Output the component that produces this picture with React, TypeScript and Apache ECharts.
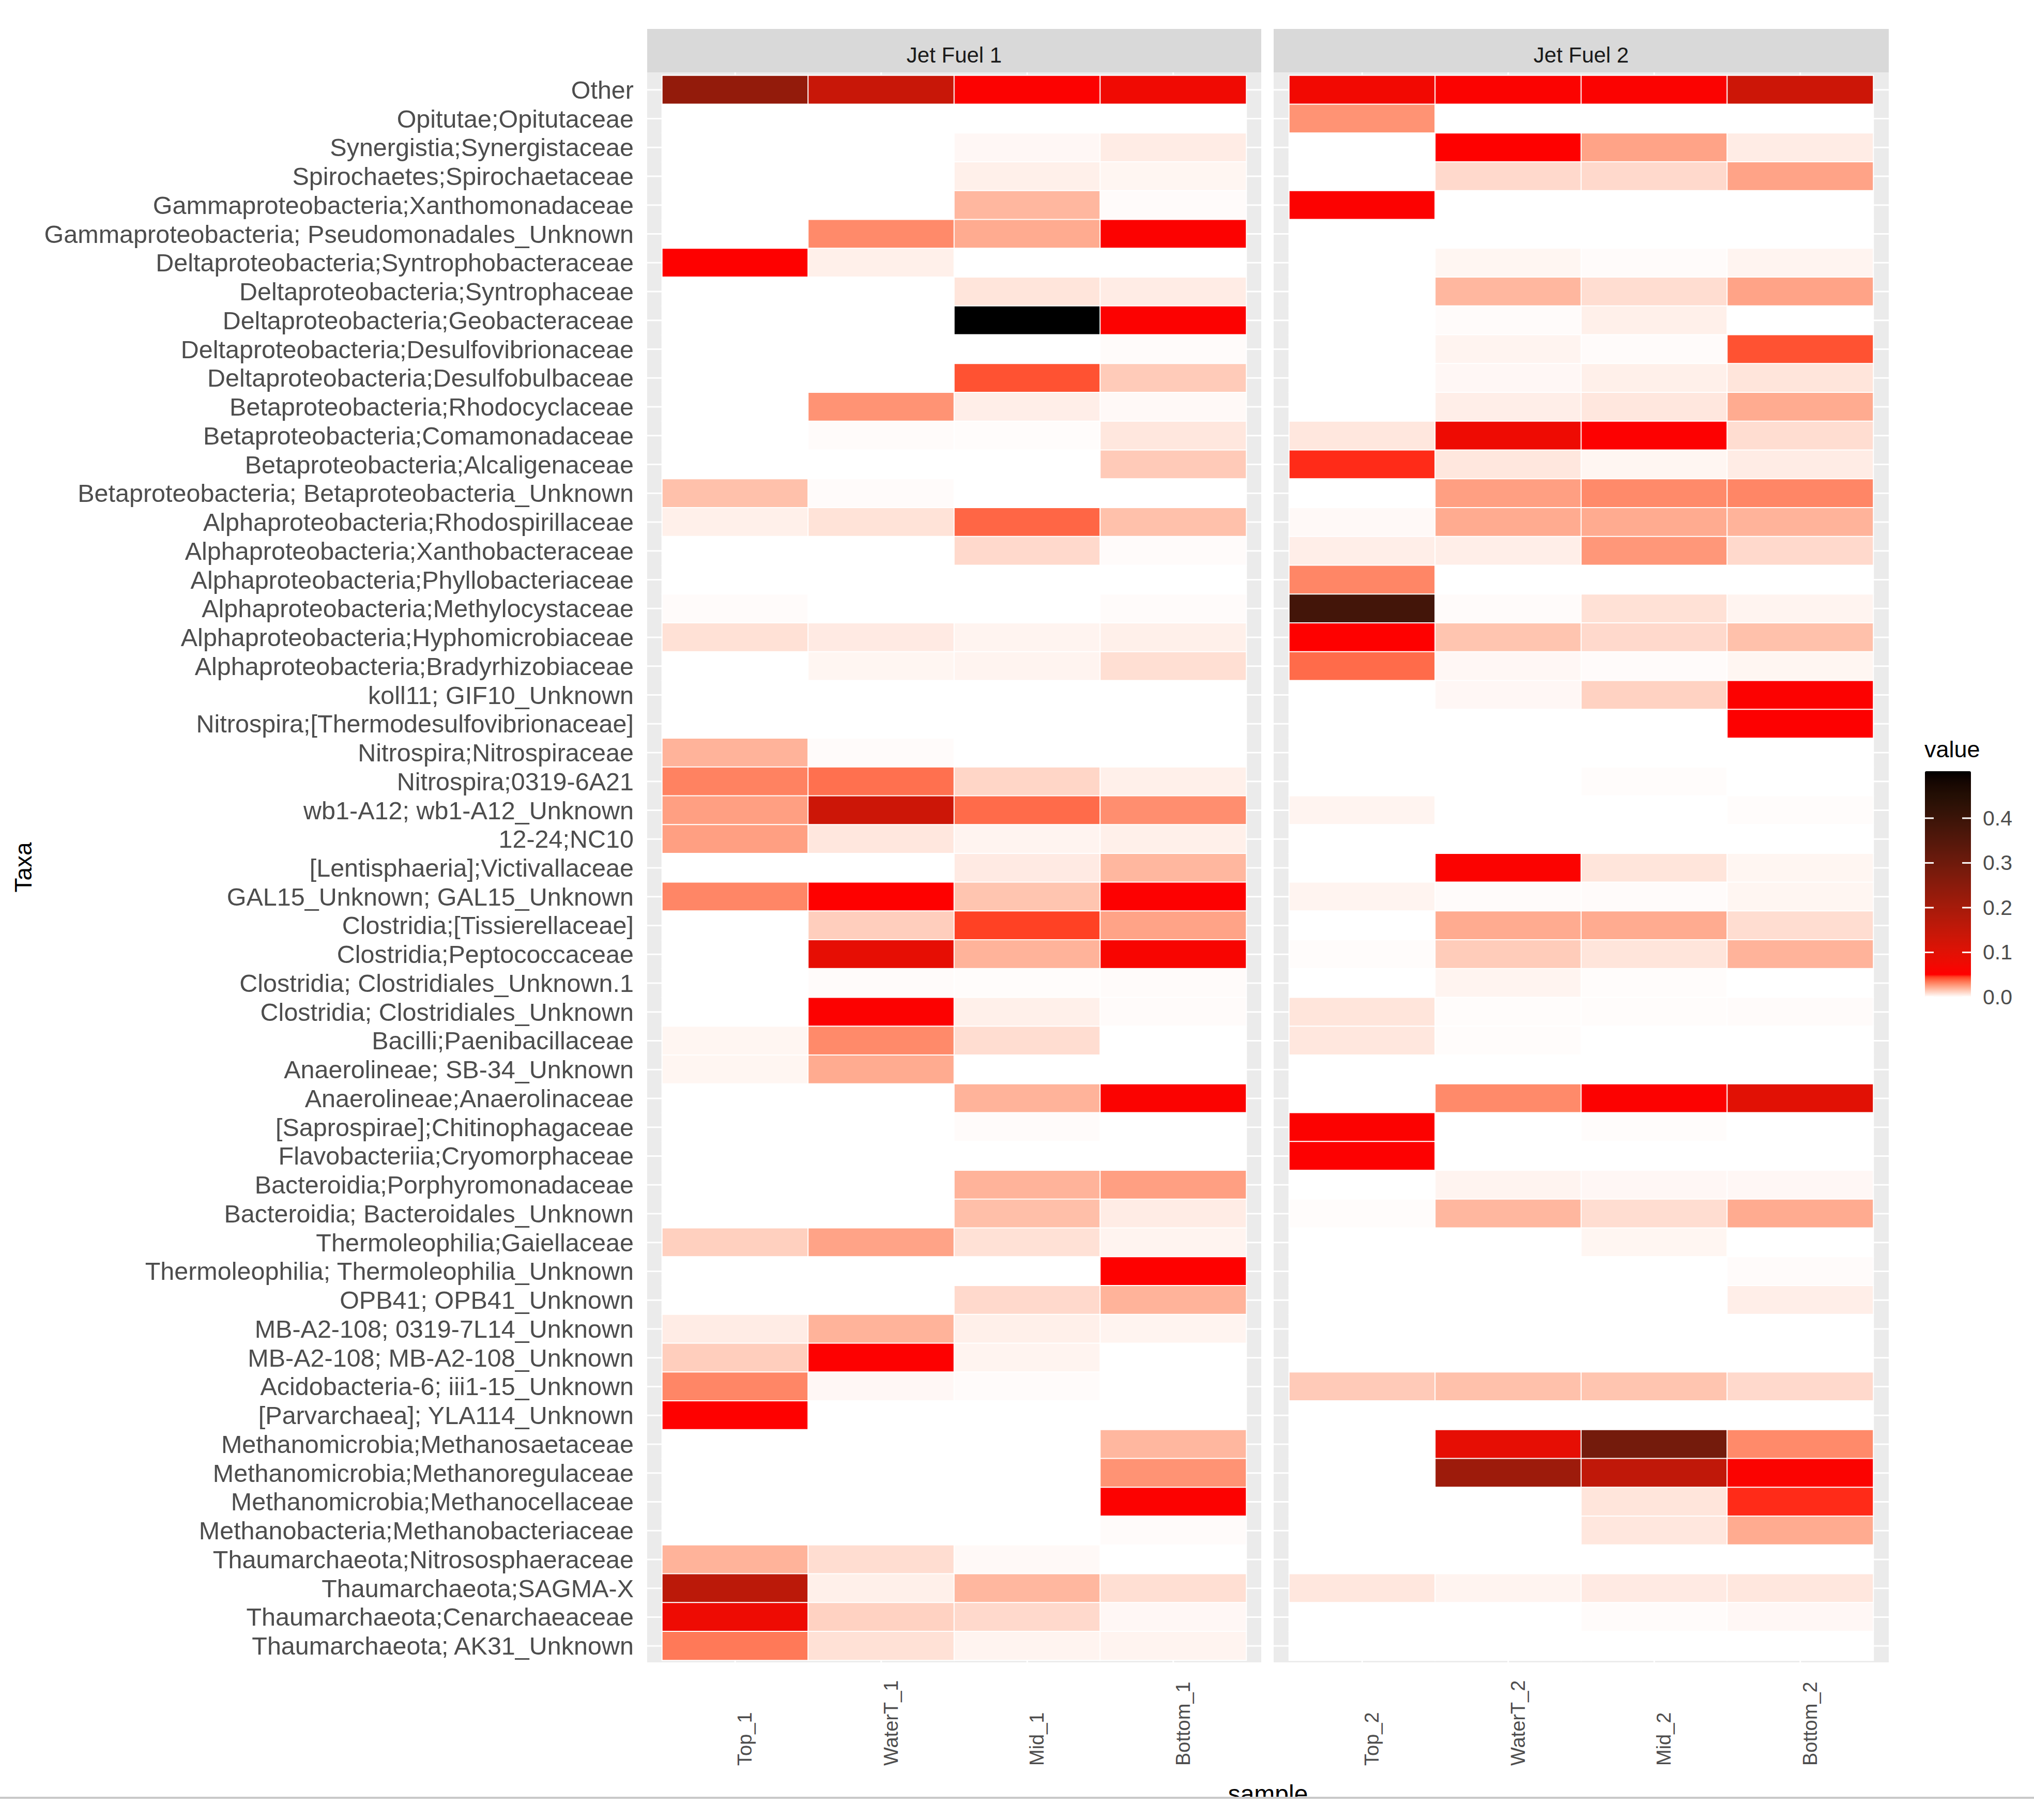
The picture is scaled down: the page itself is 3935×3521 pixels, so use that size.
import React, { useEffect, useRef } from "react";
import * as echarts from "echarts";

const taxa = [
  "Other",
  "Opitutae;Opitutaceae",
  "Synergistia;Synergistaceae",
  "Spirochaetes;Spirochaetaceae",
  "Gammaproteobacteria;Xanthomonadaceae",
  "Gammaproteobacteria; Pseudomonadales_Unknown",
  "Deltaproteobacteria;Syntrophobacteraceae",
  "Deltaproteobacteria;Syntrophaceae",
  "Deltaproteobacteria;Geobacteraceae",
  "Deltaproteobacteria;Desulfovibrionaceae",
  "Deltaproteobacteria;Desulfobulbaceae",
  "Betaproteobacteria;Rhodocyclaceae",
  "Betaproteobacteria;Comamonadaceae",
  "Betaproteobacteria;Alcaligenaceae",
  "Betaproteobacteria; Betaproteobacteria_Unknown",
  "Alphaproteobacteria;Rhodospirillaceae",
  "Alphaproteobacteria;Xanthobacteraceae",
  "Alphaproteobacteria;Phyllobacteriaceae",
  "Alphaproteobacteria;Methylocystaceae",
  "Alphaproteobacteria;Hyphomicrobiaceae",
  "Alphaproteobacteria;Bradyrhizobiaceae",
  "koll11; GIF10_Unknown",
  "Nitrospira;[Thermodesulfovibrionaceae]",
  "Nitrospira;Nitrospiraceae",
  "Nitrospira;0319-6A21",
  "wb1-A12; wb1-A12_Unknown",
  "12-24;NC10",
  "[Lentisphaeria];Victivallaceae",
  "GAL15_Unknown; GAL15_Unknown",
  "Clostridia;[Tissierellaceae]",
  "Clostridia;Peptococcaceae",
  "Clostridia; Clostridiales_Unknown.1",
  "Clostridia; Clostridiales_Unknown",
  "Bacilli;Paenibacillaceae",
  "Anaerolineae; SB-34_Unknown",
  "Anaerolineae;Anaerolinaceae",
  "[Saprospirae];Chitinophagaceae",
  "Flavobacteriia;Cryomorphaceae",
  "Bacteroidia;Porphyromonadaceae",
  "Bacteroidia; Bacteroidales_Unknown",
  "Thermoleophilia;Gaiellaceae",
  "Thermoleophilia; Thermoleophilia_Unknown",
  "OPB41; OPB41_Unknown",
  "MB-A2-108; 0319-7L14_Unknown",
  "MB-A2-108; MB-A2-108_Unknown",
  "Acidobacteria-6; iii1-15_Unknown",
  "[Parvarchaea]; YLA114_Unknown",
  "Methanomicrobia;Methanosaetaceae",
  "Methanomicrobia;Methanoregulaceae",
  "Methanomicrobia;Methanocellaceae",
  "Methanobacteria;Methanobacteriaceae",
  "Thaumarchaeota;Nitrososphaeraceae",
  "Thaumarchaeota;SAGMA-X",
  "Thaumarchaeota;Cenarchaeaceae",
  "Thaumarchaeota; AK31_Unknown",
];

const panelNames = ["Jet Fuel 1", "Jet Fuel 2"];
const samples1 = ["Top_1", "WaterT_1", "Mid_1", "Bottom_1"];
const samples2 = ["Top_2", "WaterT_2", "Mid_2", "Bottom_2"];

// values per sample, in the order of taxa (top to bottom)
const top1 = [0.233, 0, 0, 0, 0, 0, 0.052, 0, 0, 0, 0, 0, 0, 0, 0.0165, 0.004, 0, 0, 0.001, 0.008, 0, 0, 0, 0.02, 0.032, 0.025, 0.025, 0, 0.031, 0, 0, 0, 0, 0.0025, 0.0025, 0, 0, 0, 0, 0, 0.0125, 0, 0, 0.005, 0.013, 0.031, 0.053, 0, 0, 0, 0, 0.02, 0.164, 0.078, 0.034];
const waterT1 = [0.142, 0, 0, 0, 0, 0.03, 0.004, 0, 0, 0, 0, 0.028, 0.001, 0, 0.001, 0.0075, 0, 0, 0, 0.0055, 0.0025, 0, 0, 0.001, 0.036, 0.135, 0.0065, 0, 0.053, 0.013, 0.091, 0.001, 0.056, 0.03, 0.022, 0, 0, 0, 0, 0, 0.024, 0, 0, 0.02, 0.054, 0.002, 0, 0, 0, 0, 0, 0.009, 0.004, 0.012, 0.008];
const mid1 = [0.056, 0, 0.002, 0.004, 0.019, 0.022, 0, 0.007, 0.505, 0, 0.042, 0.0045, 0.0008, 0, 0, 0.038, 0.01, 0, 0, 0.003, 0.003, 0, 0, 0, 0.011, 0.037, 0.003, 0.0055, 0.0155, 0.045, 0.02, 0.0007, 0.004, 0.009, 0, 0.02, 0.001, 0, 0.02, 0.017, 0.008, 0, 0.01, 0.004, 0.003, 0.001, 0, 0, 0, 0, 0, 0.0015, 0.019, 0.01, 0.003];
const bottom1 = [0.075, 0, 0.005, 0.0025, 0.001, 0.055, 0, 0.005, 0.056, 0.001, 0.0137, 0.0015, 0.0065, 0.014, 0, 0.0165, 0.001, 0, 0.001, 0.004, 0.0085, 0, 0, 0, 0.004, 0.029, 0.004, 0.019, 0.054, 0.024, 0.062, 0.001, 0.001, 0, 0, 0.057, 0, 0, 0.025, 0.005, 0.003, 0.053, 0.02, 0.003, 0, 0, 0, 0.019, 0.028, 0.055, 0.001, 0, 0.0085, 0.002, 0.003];
const top2 = [0.072, 0.028, 0, 0, 0.056, 0, 0, 0, 0, 0, 0, 0, 0.0065, 0.047, 0, 0.0015, 0.0045, 0.031, 0.383, 0.053, 0.037, 0, 0, 0, 0, 0.003, 0, 0, 0.003, 0, 0.0008, 0, 0.007, 0.0065, 0, 0, 0.055, 0.054, 0, 0.0008, 0, 0, 0, 0, 0, 0.014, 0, 0, 0, 0, 0, 0, 0.0065, 0, 0];
const waterT2 = [0.058, 0, 0.053, 0.01, 0, 0, 0.0025, 0.019, 0.001, 0.003, 0.002, 0.0045, 0.078, 0.0065, 0.025, 0.022, 0.0045, 0, 0.001, 0.0155, 0.002, 0.002, 0, 0, 0, 0, 0, 0.058, 0.001, 0.022, 0.0135, 0.003, 0.0008, 0.0008, 0, 0.03, 0, 0, 0.003, 0.019, 0, 0, 0, 0, 0, 0.0165, 0, 0.091, 0.215, 0, 0, 0, 0.003, 0, 0];
const mid2 = [0.058, 0, 0.024, 0.01, 0, 0, 0.001, 0.009, 0.004, 0.001, 0.004, 0.0065, 0.054, 0.0025, 0.03, 0.022, 0.027, 0, 0.008, 0.01, 0.001, 0.012, 0, 0, 0.0007, 0, 0, 0.007, 0.001, 0.022, 0.007, 0.0008, 0.0008, 0, 0, 0.055, 0.0008, 0, 0.002, 0.009, 0.0025, 0, 0, 0, 0, 0.0155, 0, 0.29, 0.155, 0.007, 0.0065, 0, 0.0055, 0.001, 0];
const bottom2 = [0.135, 0, 0.005, 0.024, 0, 0, 0.003, 0.024, 0, 0.042, 0.007, 0.022, 0.009, 0.005, 0.031, 0.02, 0.01, 0, 0.003, 0.0165, 0.0025, 0.056, 0.054, 0, 0, 0.0008, 0, 0.0025, 0.0025, 0.009, 0.02, 0, 0.001, 0, 0, 0.1, 0, 0, 0.002, 0.022, 0, 0.001, 0.0045, 0, 0, 0.01, 0, 0.03, 0.058, 0.047, 0.022, 0, 0.0065, 0.002, 0];

const legendTicks = [0, 0.1, 0.2, 0.3, 0.4];
const valueMax = 0.505;

// ---- colour scale: white -> red -> black, interpolated in CIE Lab ----
const Xn = 0.95047, Yn = 1.0, Zn = 1.08883;
function s2l(c: number) { c /= 255; return c <= 0.04045 ? c / 12.92 : Math.pow((c + 0.055) / 1.055, 2.4); }
function l2s(c: number) { c = Math.min(1, Math.max(0, c)); const v = c <= 0.0031308 ? 12.92 * c : 1.055 * Math.pow(c, 1 / 2.4) - 0.055; return Math.round(v * 255); }
function fLab(t: number) { return t > 216 / 24389 ? Math.cbrt(t) : (24389 / 27 * t + 16) / 116; }
function fInv(t: number) { const t3 = t * t * t; return t3 > 216 / 24389 ? t3 : (116 * t - 16) / (24389 / 27); }
function rgb2lab(c: number[]) {
  const R = s2l(c[0]), G = s2l(c[1]), B = s2l(c[2]);
  const X = 0.4124 * R + 0.3576 * G + 0.1805 * B;
  const Y = 0.2126 * R + 0.7152 * G + 0.0722 * B;
  const Z = 0.0193 * R + 0.1192 * G + 0.9505 * B;
  const fx = fLab(X / Xn), fy = fLab(Y / Yn), fz = fLab(Z / Zn);
  return [116 * fy - 16, 500 * (fx - fy), 200 * (fy - fz)];
}
function lab2rgb(l: number[]) {
  const fy = (l[0] + 16) / 116, fx = fy + l[1] / 500, fz = fy - l[2] / 200;
  const X = Xn * fInv(fx), Y = Yn * fInv(fy), Z = Zn * fInv(fz);
  const R = 3.2406 * X - 1.5372 * Y - 0.4986 * Z;
  const G = -0.9689 * X + 1.8758 * Y + 0.0415 * Z;
  const B = 0.0557 * X - 0.204 * Y + 1.057 * Z;
  return `rgb(${l2s(R)},${l2s(G)},${l2s(B)})`;
}
const gradStops = [
  { p: 0, c: [255, 255, 255] },
  { p: 0.1, c: [255, 0, 0] },
  { p: 1, c: [0, 0, 0] },
];
function buildPalette(n: number) {
  const labs = gradStops.map((s) => rgb2lab(s.c));
  const out: string[] = [];
  for (let k = 0; k <= n; k++) {
    const p = k / n;
    let i = 0;
    while (i < gradStops.length - 2 && p > gradStops[i + 1].p) i++;
    const t = (p - gradStops[i].p) / (gradStops[i + 1].p - gradStops[i].p);
    const a = labs[i], b = labs[i + 1];
    out.push(lab2rgb([a[0] + (b[0] - a[0]) * t, a[1] + (b[1] - a[1]) * t, a[2] + (b[2] - a[2]) * t]));
  }
  return out;
}
const palette = buildPalette(100);

// ---- layout (pixels) ----
const W = 3935, H = 3521;
const bgX = [1252, 2464];
const bgW = [1188, 1190];
const gridLeft = [1281, 2494];
const gridW = 1130;
const gridTop = 146;
const gridH = 3066;
const panelTop = 140;
const panelBottom = 3216;
const stripTop = 56;
const stripH = 84;
const legX = 3724, legTop = 1492, legW = 89, legH = 437;
const FONT = "'Liberation Sans', Arial, sans-serif";

export default function App() {
  const ref = useRef<HTMLDivElement>(null);
  useEffect(() => {
    if (!ref.current) return;
    const chart = echarts.init(ref.current, undefined, { renderer: "svg" });
    const cols1 = [top1, waterT1, mid1, bottom1];
    const cols2 = [top2, waterT2, mid2, bottom2];
    const toData = (cols: number[][]) => {
      const d: number[][] = [];
      cols.forEach((col, j) => col.forEach((v, i) => d.push([j, i, v])));
      return d;
    };

    const graphic: any[] = [];
    const rowH = gridH / taxa.length;
    for (let p = 0; p < 2; p++) {
      graphic.push({ type: "rect", z: 0, shape: { x: bgX[p], y: panelTop, width: bgW[p], height: panelBottom - panelTop }, style: { fill: "#EBEBEB" } });
      for (let i = 0; i < taxa.length; i++) {
        const y = gridTop + (i + 0.5) * rowH;
        graphic.push({ type: "line", z: 0, shape: { x1: bgX[p], y1: y, x2: bgX[p] + bgW[p], y2: y }, style: { stroke: "#FFFFFF", lineWidth: 3 } });
      }
      for (let j = 0; j < 4; j++) {
        const x = gridLeft[p] + (j + 0.5) * gridW / 4;
        graphic.push({ type: "line", z: 0, shape: { x1: x, y1: panelTop, x2: x, y2: panelBottom }, style: { stroke: "#FFFFFF", lineWidth: 3 } });
      }
      graphic.push({ type: "rect", z: 0, shape: { x: bgX[p], y: stripTop, width: bgW[p], height: stripH }, style: { fill: "#D9D9D9" } });
      graphic.push({ type: "text", z: 5, x: bgX[p] + bgW[p] / 2, y: 106, style: { text: panelNames[p], fontSize: 42, fontFamily: FONT, fill: "#1A1A1A", align: "center", verticalAlign: "middle" } });
    }
    // legend
    graphic.push({ type: "text", z: 5, x: 3723, y: 1449, style: { text: "value", fontSize: 45, fontFamily: FONT, fill: "#000000", align: "left", verticalAlign: "middle" } });
    legendTicks.forEach((v) => {
      const y = legTop + legH - (v / valueMax) * legH;
      graphic.push({ type: "line", z: 20, shape: { x1: legX, y1: y, x2: legX + 17, y2: y }, style: { stroke: "#FFFFFF", lineWidth: 3 } });
      graphic.push({ type: "line", z: 20, shape: { x1: legX + legW - 17, y1: y, x2: legX + legW, y2: y }, style: { stroke: "#FFFFFF", lineWidth: 3 } });
      graphic.push({ type: "text", z: 5, x: 3836, y: y, style: { text: v.toFixed(1), fontSize: 41, fontFamily: FONT, fill: "#4D4D4D", align: "left", verticalAlign: "middle" } });
    });
    // axis titles
    graphic.push({ type: "text", z: 5, x: 45, y: (panelTop + panelBottom) / 2, rotation: Math.PI / 2, style: { text: "Taxa", fontSize: 46, fontFamily: FONT, fill: "#000000", align: "center", verticalAlign: "middle" } });
    graphic.push({ type: "text", z: 5, x: (bgX[0] + bgX[1] + bgW[1]) / 2, y: 3446, style: { text: "sample", fontSize: 48, fontFamily: FONT, fill: "#000000", align: "center", verticalAlign: "top" } });
    graphic.push({ type: "rect", z: 30, shape: { x: 0, y: 3478, width: W, height: H - 3478 }, style: { fill: "#FFFFFF" } });
    graphic.push({ type: "rect", z: 31, shape: { x: 0, y: 3476, width: W, height: 4 }, style: { fill: "#C8C8C8" } });

    const xAxisBase = (data: string[], idx: number) => ({
      type: "category",
      gridIndex: idx,
      data,
      position: "bottom",
      axisLine: { show: false },
      axisTick: { show: false },
      splitLine: { show: false },
      axisLabel: { interval: 0, rotate: 90, align: "left", verticalAlign: "top", margin: 204, fontSize: 38, fontFamily: FONT, color: "#4D4D4D" },
    });
    const yAxisBase = (idx: number, showLabels: boolean) => ({
      type: "category",
      gridIndex: idx,
      data: taxa,
      inverse: true,
      axisLine: { show: false },
      axisTick: { show: false },
      splitLine: { show: false },
      axisLabel: { show: showLabels, interval: 0, fontSize: 48.5, fontFamily: FONT, color: "#4D4D4D", margin: 55, padding: [10, 0, 0, 0] },
    });

    chart.setOption({
      animation: false,
      backgroundColor: "#FFFFFF",
      grid: [
        { left: gridLeft[0], top: gridTop, width: gridW, height: gridH },
        { left: gridLeft[1], top: gridTop, width: gridW, height: gridH },
      ],
      xAxis: [xAxisBase(samples1, 0), xAxisBase(samples2, 1)],
      yAxis: [yAxisBase(0, true), yAxisBase(1, false)],
      visualMap: {
        type: "continuous",
        min: 0,
        max: valueMax,
        seriesIndex: [0, 1],
        calculable: false,
        hoverLink: false,
        show: true,
        orient: "vertical",
        left: legX,
        top: legTop,
        itemWidth: legW,
        itemHeight: legH,
        padding: 0,
        inRange: { color: palette },
      },
      graphic,
      series: [
        { type: "heatmap", xAxisIndex: 0, yAxisIndex: 0, data: toData(cols1), itemStyle: { borderColor: "#FFFFFF", borderWidth: 2 }, emphasis: { disabled: true } },
        { type: "heatmap", xAxisIndex: 1, yAxisIndex: 1, data: toData(cols2), itemStyle: { borderColor: "#FFFFFF", borderWidth: 2 }, emphasis: { disabled: true } },
      ],
    });
    return () => chart.dispose();
  }, []);
  return <div ref={ref} style={{ position: "fixed", left: 0, top: 0, width: W, height: H }} />;
}
